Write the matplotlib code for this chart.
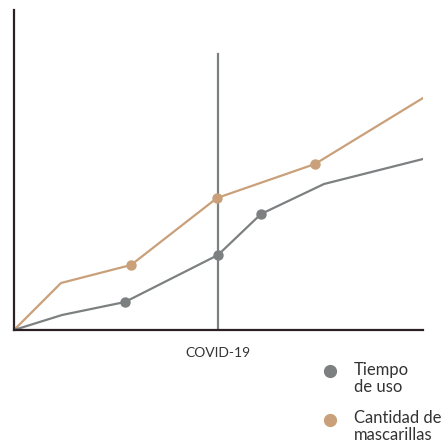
import matplotlib
matplotlib.use("Agg")
import matplotlib.pyplot as plt
from matplotlib.lines import Line2D

plt.rcParams['font.family'] = ['Lato', 'DejaVu Sans']

# Data (arbitrary units)
tan_x = [0, 47, 117, 203, 301, 409]
tan_y = [0, 47, 65, 132, 166, 232]
tan_marked = [2, 3, 4]
gray_x = [0, 48, 111, 204, 247, 310, 409]
gray_y = [0, 15, 28, 75, 116, 146, 171]
gray_marked = [2, 3, 4]
covid_x = 204
covid_top = 276
covid_label = "COVID-19"
legend_labels = [["Tiempo", "de uso"], ["Cantidad de", "mascarillas"]]

GRAY = "#7d8081"
TAN = "#c9a079"
SPINE = "#2b2125"
TXT = "#333333"

W, H = 446, 442
fig = plt.figure(figsize=(W / 100, H / 100), dpi=100)
ax = fig.add_axes([14 / W, (H - 330) / H, 409 / W, 320 / H])
ax.set_xlim(0, 409)
ax.set_ylim(0, 320)

ax.plot([covid_x, covid_x], [0, covid_top], color=GRAY, lw=1.6, zorder=1)
ax.plot(tan_x, tan_y, color=TAN, lw=1.6, zorder=2, solid_joinstyle='round')
ax.plot([tan_x[i] for i in tan_marked], [tan_y[i] for i in tan_marked], 'o',
        color=TAN, ms=6.5, zorder=3)
ax.plot(gray_x, gray_y, color=GRAY, lw=1.6, zorder=2, solid_joinstyle='round')
ax.plot([gray_x[i] for i in gray_marked], [gray_y[i] for i in gray_marked], 'o',
        color=GRAY, ms=6.5, zorder=3)

for s in ['top', 'right']:
    ax.spines[s].set_visible(False)
for s in ['left', 'bottom']:
    ax.spines[s].set_color(SPINE)
    ax.spines[s].set_linewidth(1.6)
ax.set_xticks([])
ax.set_yticks([])

fig.text(218 / W, 1 - 357 / H, covid_label, ha='center', va='baseline',
         fontsize=10, color=TXT)

# Legend (manual)
items = [(GRAY, legend_labels[0], 371, [375, 392]),
         (TAN, legend_labels[1], 420, [423, 439.5])]
for color, lines, py, baselines in items:
    fig.add_artist(Line2D([330 / W], [1 - py / H], marker='o', color=color,
                          ms=8.5, linestyle='none', transform=fig.transFigure))
    for line, b in zip(lines, baselines):
        fig.text(354 / W, 1 - b / H, line, ha='left', va='baseline',
                 fontsize=12, color=TXT)

fig.savefig("out.png", dpi=100)
